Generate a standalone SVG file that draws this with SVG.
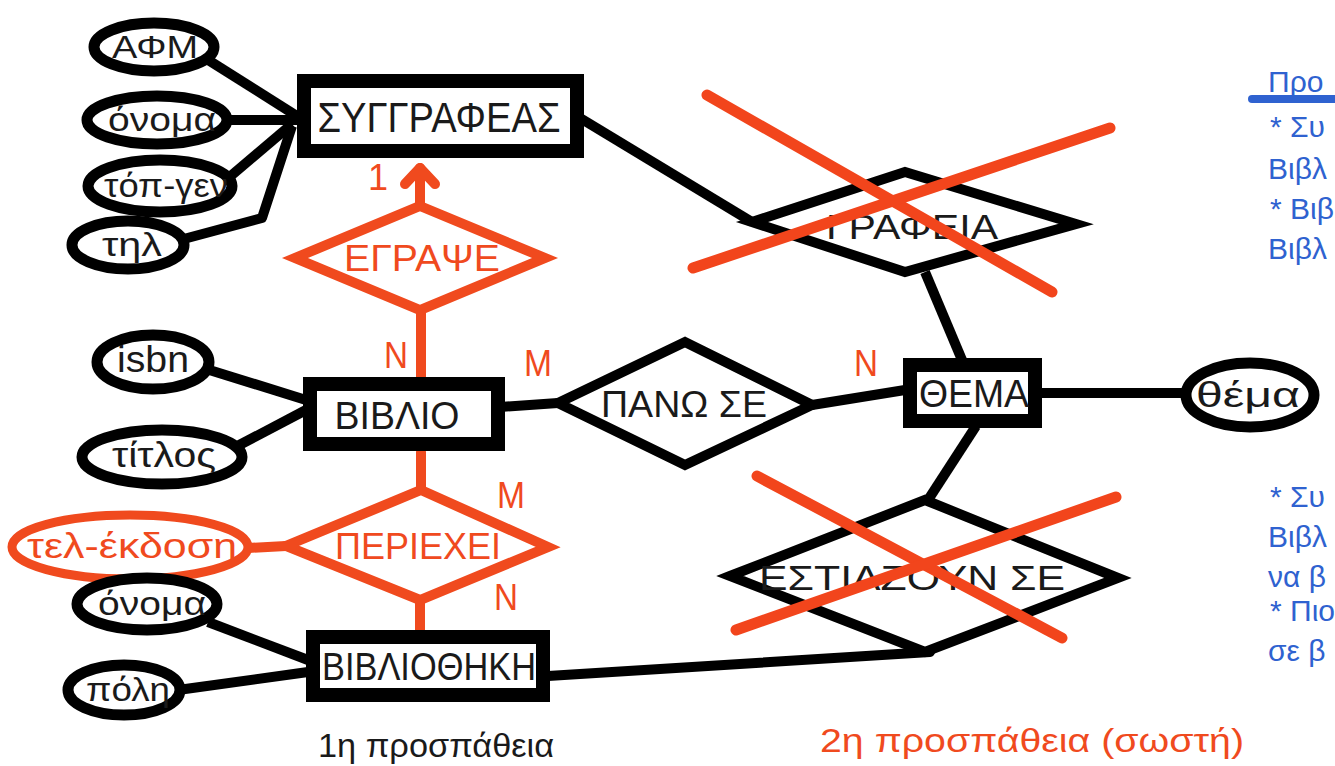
<svg xmlns="http://www.w3.org/2000/svg" width="1335" height="766" viewBox="0 0 1335 766">
  <style>
    .bg { fill: #ffffff; }
    .ent { fill: #ffffff; stroke: #000000; stroke-width: 14; }
    .rel { fill: #ffffff; stroke: #000000; stroke-width: 10; stroke-linejoin: miter; }
    .relr { fill: #ffffff; stroke: #f04a1e; stroke-width: 10; stroke-linejoin: miter; }
    .att { fill: #ffffff; stroke: #000000; stroke-width: 11; }
    .attr { fill: #ffffff; stroke: #f04a1e; stroke-width: 9; }
    .ln { fill: none; stroke: #000000; stroke-width: 10; stroke-linejoin: round; }
    .lnr { fill: none; stroke: #f04a1e; stroke-width: 10; stroke-linecap: round; stroke-linejoin: round; }
    .cross { fill: none; stroke: #f2451c; stroke-width: 11; stroke-linecap: round; }
    text { font-family: "Liberation Sans", Arial, sans-serif; }
    .t { fill: #1a1a1a; text-anchor: middle; }
    .tr { fill: #f04a1e; text-anchor: middle; }
    .card { fill: #f04a1e; font-size: 36px; text-anchor: middle; }
    .note { fill: #2f62d0; font-size: 30px; }
  </style>
  <rect class="bg" x="0" y="0" width="1335" height="766"/>

  <!-- connectors -->
  <g id="connectors">
    <!-- ΣΥΓΓΡΑΦΕΑΣ attributes -->
    <path class="ln" d="M205,58 L300,118"/>
    <path class="ln" d="M224,120 L300,120"/>
    <path class="ln" d="M226,180 L292,124"/>
    <path class="ln" d="M180,240 L262,218 L292,126"/>
    <!-- ΣΥΓΓΡΑΦΕΑΣ to ΓΡΑΦΕΙΑ -->
    <path class="ln" d="M580,118 L752,222"/>
    <!-- ΓΡΑΦΕΙΑ to ΘΕΜΑ -->
    <path class="ln" d="M925,272 L962,360"/>
    <!-- ΒΙΒΛΙΟ attributes -->
    <path class="ln" d="M203,368 L306,400"/>
    <path class="ln" d="M226,452 L306,410"/>
    <!-- ΒΙΒΛΙΟ to ΠΑΝΩ ΣΕ to ΘΕΜΑ -->
    <path class="ln" d="M500,407 L558,403"/>
    <path class="ln" d="M812,405 L905,390"/>
    <!-- ΘΕΜΑ to θέμα -->
    <path class="ln" d="M1040,393 L1186,393"/>
    <!-- ΘΕΜΑ to ΕΣΤΙΑΖΟΥΝ ΣΕ -->
    <path class="ln" d="M976,426 L928,500"/>
    <!-- ΒΙΒΛΙΟΘΗΚΗ attributes -->
    <path class="ln" d="M208,622 L308,660"/>
    <path class="ln" d="M178,690 L308,672"/>
    <!-- ΒΙΒΛΙΟΘΗΚΗ to ΕΣΤΙΑΖΟΥΝ ΣΕ -->
    <path class="ln" d="M548,676 L930,652 L925,648"/>

    <!-- ΕΓΡΑΨΕ links -->
    <path class="lnr" d="M420,206 L420,168"/>
    <path class="lnr" d="M405,184 L420,168 L435,184"/>
    <path class="lnr" d="M421,310 L421,378"/>
    <!-- ΠΕΡΙΕΧΕΙ links -->
    <path class="lnr" d="M421,452 L421,490"/>
    <path class="lnr" d="M420,600 L420,632"/>
    <path class="lnr" d="M248,548 L286,546"/>
  </g>

  <!-- entity ΣΥΓΓΡΑΦΕΑΣ -->
  <g id="syggrafeas">
    <rect class="ent" x="304" y="81" width="273" height="70"/>
    <text class="t" x="439" y="132" font-size="42" textLength="243" lengthAdjust="spacingAndGlyphs">ΣΥΓΓΡΑΦΕΑΣ</text>
  </g>

  <g id="att-afm">
    <ellipse class="att" cx="154" cy="47" rx="60" ry="24"/>
    <text class="t" x="155" y="58" font-size="32" textLength="86" lengthAdjust="spacingAndGlyphs">ΑΦΜ</text>
  </g>
  <g id="att-onoma1">
    <ellipse class="att" cx="157" cy="120" rx="70" ry="24"/>
    <text class="t" x="162" y="131" font-size="33" textLength="108" lengthAdjust="spacingAndGlyphs">όνομα</text>
  </g>
  <g id="att-topgen">
    <ellipse class="att" cx="160" cy="186" rx="72" ry="26"/>
    <text class="t" x="166" y="197" font-size="33" textLength="124" lengthAdjust="spacingAndGlyphs">τόπ-γεν</text>
  </g>
  <g id="att-til">
    <ellipse class="att" cx="128" cy="245" rx="56" ry="24"/>
    <text class="t" x="132" y="256" font-size="33" textLength="60" lengthAdjust="spacingAndGlyphs">τηλ</text>
  </g>

  <!-- relationship ΕΓΡΑΨΕ -->
  <g id="egrapse">
    <polygon class="relr" points="420,206 545,258 420,310 295,258"/>
    <text class="tr" x="422" y="271" font-size="37" textLength="156" lengthAdjust="spacingAndGlyphs">ΕΓΡΑΨΕ</text>
  </g>

  <!-- relationship ΓΡΑΦΕΙΑ -->
  <g id="grafeia">
    <polygon class="rel" points="752,222 905,172 1076,224 905,272"/>
    <text class="t" x="912" y="239" font-size="35" textLength="172" lengthAdjust="spacingAndGlyphs">ΓΡΑΦΕΙΑ</text>
  </g>

  <!-- entity ΒΙΒΛΙΟ -->
  <g id="vivlio">
    <rect class="ent" x="310" y="384" width="188" height="60"/>
    <text class="t" x="397" y="429" font-size="39" textLength="125" lengthAdjust="spacingAndGlyphs">ΒΙΒΛΙΟ</text>
  </g>
  <g id="att-isbn">
    <ellipse class="att" cx="153" cy="362" rx="56" ry="27"/>
    <text class="t" x="153" y="372" font-size="37" textLength="72" lengthAdjust="spacingAndGlyphs">isbn</text>
  </g>
  <g id="att-titlos">
    <ellipse class="att" cx="162" cy="457" rx="80" ry="27"/>
    <text class="t" x="164" y="467" font-size="35" textLength="104" lengthAdjust="spacingAndGlyphs">τίτλος</text>
  </g>

  <!-- relationship ΠΑΝΩ ΣΕ -->
  <g id="pano-se">
    <polygon class="rel" points="558,403 685,342 812,405 685,465"/>
    <text class="t" x="684" y="417" font-size="37" textLength="166" lengthAdjust="spacingAndGlyphs">ΠΑΝΩ ΣΕ</text>
  </g>

  <!-- entity ΘΕΜΑ -->
  <g id="thema">
    <rect class="ent" x="910" y="365" width="125" height="56"/>
    <text class="t" x="974" y="407" font-size="38" textLength="110" lengthAdjust="spacingAndGlyphs">ΘΕΜΑ</text>
  </g>
  <g id="att-thema">
    <ellipse class="att" cx="1250" cy="395" rx="64" ry="32"/>
    <text class="t" x="1248" y="407" font-size="35" textLength="104" lengthAdjust="spacingAndGlyphs">θέμα</text>
  </g>

  <!-- relationship ΠΕΡΙΕΧΕΙ -->
  <g id="periexei">
    <polygon class="relr" points="421,490 548,547 420,600 286,546"/>
    <text class="tr" x="418" y="559" font-size="37" textLength="166" lengthAdjust="spacingAndGlyphs">ΠΕΡΙΕΧΕΙ</text>
  </g>
  <g id="att-tel-ekdosi">
    <ellipse class="attr" cx="130" cy="547" rx="118" ry="32"/>
    <text class="tr" x="132" y="558" font-size="35" textLength="210" lengthAdjust="spacingAndGlyphs">τελ-έκδοση</text>
  </g>

  <!-- relationship ΕΣΤΙΑΖΟΥΝ ΣΕ -->
  <g id="estiazoun-se">
    <polygon class="rel" points="730,576 925,500 1118,578 925,652"/>
    <text class="t" x="912" y="590" font-size="35" textLength="306" lengthAdjust="spacingAndGlyphs">ΕΣΤΙΑΖΟΥΝ ΣΕ</text>
  </g>

  <!-- entity ΒΙΒΛΙΟΘΗΚΗ -->
  <g id="vivliothiki">
    <rect class="ent" x="313" y="637" width="230" height="58"/>
    <text class="t" x="429" y="680" font-size="38" textLength="214" lengthAdjust="spacingAndGlyphs">ΒΙΒΛΙΟΘΗΚΗ</text>
  </g>
  <g id="att-onoma2">
    <ellipse class="att" cx="147" cy="604" rx="70" ry="26"/>
    <text class="t" x="152" y="615" font-size="33" textLength="108" lengthAdjust="spacingAndGlyphs">όνομα</text>
  </g>
  <g id="att-poli">
    <ellipse class="att" cx="124" cy="690" rx="56" ry="25"/>
    <text class="t" x="128" y="701" font-size="33" textLength="84" lengthAdjust="spacingAndGlyphs">πόλη</text>
  </g>

  <!-- strike-outs over rejected relationships -->
  <g id="strike-grafeia">
    <path class="cross" d="M707,95 L1052,292"/>
    <path class="cross" d="M693,268 L1110,128"/>
  </g>
  <g id="strike-estiazoun">
    <path class="cross" d="M757,476 L1062,638"/>
    <path class="cross" d="M736,630 L1116,497"/>
  </g>

  <!-- cardinalities -->
  <g id="cardinalities">
    <text class="card" x="378" y="190">1</text>
    <text class="card" x="396" y="368" textLength="24" lengthAdjust="spacingAndGlyphs">N</text>
    <text class="card" x="538" y="376" textLength="28" lengthAdjust="spacingAndGlyphs">M</text>
    <text class="card" x="866" y="376" textLength="24" lengthAdjust="spacingAndGlyphs">N</text>
    <text class="card" x="511" y="508" textLength="28" lengthAdjust="spacingAndGlyphs">M</text>
    <text class="card" x="506" y="610" textLength="24" lengthAdjust="spacingAndGlyphs">N</text>
  </g>

  <!-- captions -->
  <text class="t" x="436" y="757" font-size="33" textLength="236" lengthAdjust="spacingAndGlyphs">1η προσπάθεια</text>
  <text class="tr" x="1032" y="752" font-size="33" textLength="424" lengthAdjust="spacingAndGlyphs">2η προσπάθεια (σωστή)</text>

  <!-- side notes -->
  <g id="notes">
    <text class="note" x="1268" y="92">Προ</text>
    <path d="M1252,99 L1335,99" stroke="#2f62d0" stroke-width="8" stroke-linecap="round"/>
    <text class="note" x="1270" y="137">* Συ</text>
    <text class="note" x="1268" y="179">Βιβλ</text>
    <text class="note" x="1270" y="219">* Βιβ</text>
    <text class="note" x="1268" y="259">Βιβλ</text>
    <text class="note" x="1270" y="507">* Συ</text>
    <text class="note" x="1268" y="547">Βιβλ</text>
    <text class="note" x="1268" y="587">να β</text>
    <text class="note" x="1270" y="621">* Πιο</text>
    <text class="note" x="1268" y="661">σε β</text>
  </g>
</svg>
